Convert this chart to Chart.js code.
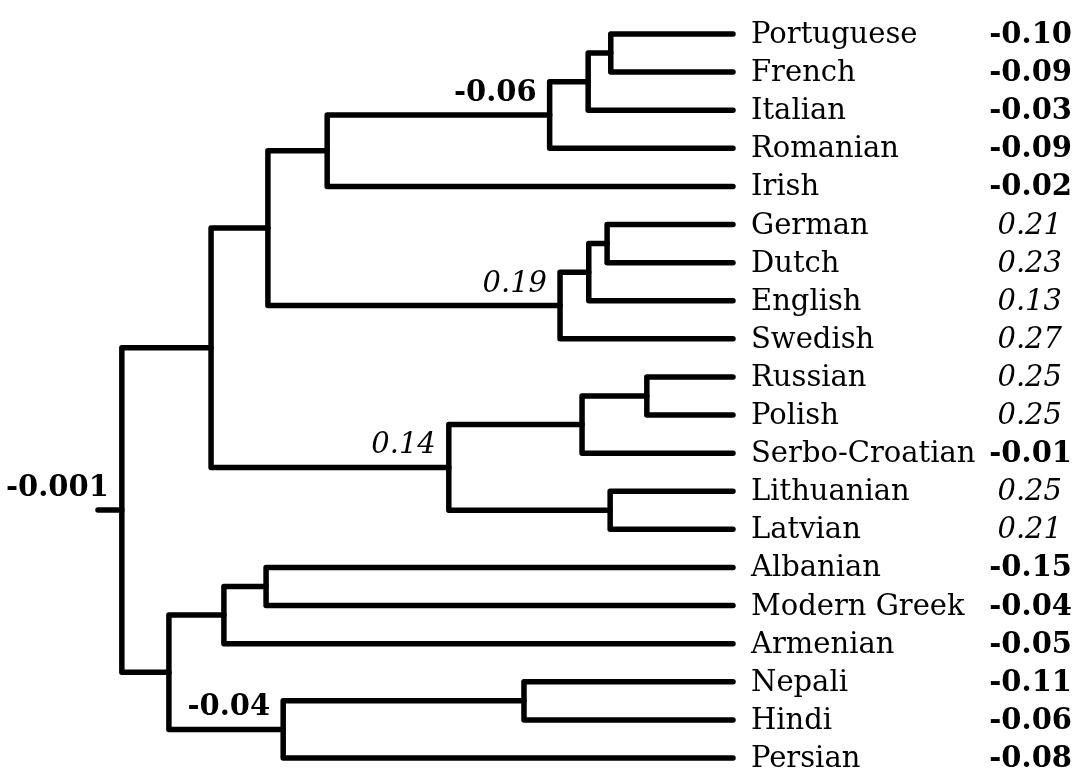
<!DOCTYPE html>
<html>
<head>
<meta charset="utf-8">
<script src="https://cdn.jsdelivr.net/npm/chart.js@4"></script>
<style>
  html, body { margin: 0; padding: 0; background: #fff; }
  #wrap { width: 1077px; height: 769px; }
</style>
</head>
<body>
<div id="wrap"><canvas id="treeChart" width="1077" height="769"></canvas></div>
<script>
// leaves, top to bottom
const leaves = ['Portuguese', 'French', 'Italian', 'Romanian', 'Irish', 'German', 'Dutch', 'English', 'Swedish',
    'Russian', 'Polish', 'Serbo-Croatian', 'Lithuanian', 'Latvian', 'Albanian', 'Modern Greek', 'Armenian',
    'Nepali', 'Hindi', 'Persian'];
const leafValues = [-0.10, -0.09, -0.03, -0.09, -0.02, 0.21, 0.23, 0.13, 0.27, 0.25, 0.25, -0.01, 0.25, 0.21,
    -0.15, -0.04, -0.05, -0.11, -0.06, -0.08];

// internal nodes: name, left child, right child, depth (root = 0, leaves = 100)
const nodeNames  = ['PF', 'PFI', 'Romance', 'RomIrish', 'GD', 'GDE', 'Germanic', 'West', 'RP', 'Slavic', 'Baltic',
    'BaltoSlavic', 'Europe', 'AlbGreek', 'AGA', 'NH', 'IndoIran', 'East', 'Root'];
const nodeLeft   = ['Portuguese', 'PF', 'PFI', 'Romance', 'German', 'GD', 'GDE', 'RomIrish', 'Russian', 'RP',
    'Lithuanian', 'Slavic', 'West', 'Albanian', 'AlbGreek', 'Nepali', 'NH', 'AGA', 'Europe'];
const nodeRight  = ['French', 'Italian', 'Romanian', 'Irish', 'Dutch', 'English', 'Swedish', 'Germanic', 'Polish',
    'Serbo-Croatian', 'Latvian', 'Baltic', 'BaltoSlavic', 'Modern Greek', 'Armenian', 'Hindi', 'Persian',
    'IndoIran', 'East'];
const nodeDepth  = [80.0, 76.3, 70.0, 33.6, 79.4, 76.4, 71.7, 23.9, 85.9, 75.3, 79.9, 53.5, 14.6, 23.6, 16.7,
    65.8, 26.4, 7.7, 0];
const nodeLabels = { Romance: -0.06, Germanic: 0.19, BaltoSlavic: 0.14, IndoIran: -0.04, Root: -0.001 };
const rootStub = -3.9;

const FONT = '"DejaVu Serif", "Liberation Serif", serif';
const SIZE = 29;

// positions in data space
const pos = {};
leaves.forEach((name, i) => { pos[name] = { x: 100, y: i }; });
nodeNames.forEach((name, i) => {
    const l = pos[nodeLeft[i]], r = pos[nodeRight[i]];
    pos[name] = { x: nodeDepth[i], y: (l.y + r.y) / 2 };
});

const lineStyle = {
    borderColor: '#000',
    backgroundColor: '#000',
    borderWidth: 5.5,
    borderCapStyle: 'round',
    borderJoinStyle: 'round',
    pointRadius: 0,
    fill: false,
    tension: 0,
    clip: false
};

const datasets = nodeNames.map((name, i) => {
    const l = pos[nodeLeft[i]], r = pos[nodeRight[i]], h = nodeDepth[i];
    return Object.assign({
        label: name,
        data: [{ x: l.x, y: l.y }, { x: h, y: l.y }, { x: h, y: r.y }, { x: r.x, y: r.y }]
    }, lineStyle);
});
datasets.push(Object.assign({ label: 'stub', data: [{ x: rootStub, y: pos.Root.y }, { x: 0, y: pos.Root.y }] }, lineStyle));

function fmt(v) {
    return v === -0.001 ? '-0.001' : v.toFixed(2);
}
function fontFor(v) {
    return (v < 0 ? 'bold ' : 'italic ') + SIZE + 'px ' + FONT;
}

const labelPlugin = {
    id: 'treeLabels',
    afterDatasetsDraw(chart) {
        const c = chart.ctx, xs = chart.scales.x, ys = chart.scales.y;
        c.save();
        c.fillStyle = '#000';
        c.textBaseline = 'alphabetic';
        const xLeaf = xs.getPixelForValue(100);
        leaves.forEach((name, i) => {
            const py = ys.getPixelForValue(i) + 9;
            c.font = SIZE + 'px ' + FONT;
            c.textAlign = 'left';
            c.fillText(name, xLeaf + 18, py);
            const v = leafValues[i];
            c.font = fontFor(v);
            c.textAlign = 'right';
            c.fillText(fmt(v), v < 0 ? 1072 : 1062, py);
        });
        Object.keys(nodeLabels).forEach(name => {
            const v = nodeLabels[name], p = pos[name];
            c.font = fontFor(v);
            c.textAlign = 'right';
            c.fillText(fmt(v), xs.getPixelForValue(p.x) - 13, ys.getPixelForValue(p.y) - 14);
        });
        c.restore();
    }
};

new Chart(document.getElementById('treeChart').getContext('2d'), {
    type: 'line',
    data: { datasets: datasets },
    options: {
        responsive: false,
        animation: false,
        layout: { padding: { left: 98, right: 344, top: 34, bottom: 11 } },
        scales: {
            x: { type: 'linear', min: rootStub, max: 100, display: false },
            y: { type: 'linear', min: 0, max: 19, reverse: true, display: false }
        },
        plugins: {
            colors: { enabled: false },
            legend: { display: false },
            tooltip: { enabled: false }
        }
    },
    plugins: [labelPlugin]
});
</script>
</body>
</html>
